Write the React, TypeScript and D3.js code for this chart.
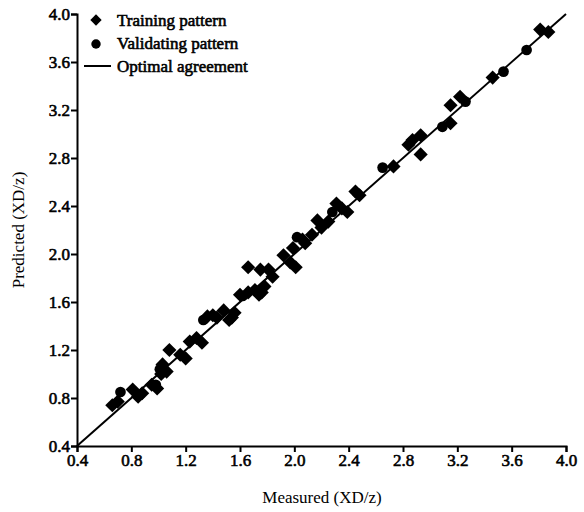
import React, { useEffect, useRef } from "react";
import * as d3 from "d3";

// training pattern (diamonds)
const trainX = [0.66, 0.7, 0.81, 0.85, 0.88, 0.95, 0.99, 1.03, 1.06, 1.02, 1.08, 1.16, 1.2, 1.23, 1.28, 1.32, 1.36, 1.4, 1.43, 1.48, 1.54, 1.56, 1.52, 1.6, 1.66, 1.71, 1.76, 1.78, 1.74, 1.66, 1.75, 1.81, 1.84, 1.92, 1.97, 2.01, 2.06, 1.99, 2.08, 2.17, 2.2, 2.25, 2.13, 2.31, 2.35, 2.39, 2.45, 2.48, 2.73, 2.84, 2.87, 2.93, 2.93, 3.15, 3.15, 3.22, 3.46, 3.81, 3.87];
const trainY = [0.74, 0.77, 0.87, 0.81, 0.84, 0.91, 0.88, 1.08, 1.02, 1.0, 1.2, 1.16, 1.13, 1.27, 1.3, 1.26, 1.48, 1.49, 1.47, 1.53, 1.47, 1.51, 1.45, 1.66, 1.68, 1.7, 1.68, 1.73, 1.66, 1.89, 1.87, 1.87, 1.81, 1.99, 1.93, 1.89, 2.12, 2.05, 2.09, 2.28, 2.22, 2.27, 2.16, 2.42, 2.38, 2.35, 2.52, 2.49, 2.73, 2.91, 2.95, 2.99, 2.83, 3.09, 3.24, 3.31, 3.47, 3.87, 3.85];

// validating pattern (circles)
const validX = [0.72, 0.98, 1.01, 1.33, 1.62, 2.02, 2.28, 2.65, 3.09, 3.26, 3.54, 3.71];
const validY = [0.85, 0.91, 1.04, 1.45, 1.65, 2.14, 2.35, 2.72, 3.06, 3.27, 3.52, 3.7];

const ticks = [0.4, 0.8, 1.2, 1.6, 2.0, 2.4, 2.8, 3.2, 3.6, 4.0];
const legendLabels = ["Training pattern", "Validating pattern", "Optimal agreement"];

const font = "'Times New Roman', 'Liberation Serif', serif";

export default function App() {
  const ref = useRef<SVGSVGElement>(null);

  useEffect(() => {
    const svg = d3.select(ref.current);
    svg.selectAll("*").remove();

    const x = d3.scaleLinear().domain([0.4, 4.0]).range([77, 566]);
    const y = d3.scaleLinear().domain([0.4, 4.0]).range([446, 14]);

    const xAxis = d3.axisBottom(x).tickValues(ticks).tickFormat(d3.format(".1f")).tickSize(6).tickPadding(2);
    const yAxis = d3.axisLeft(y).tickValues(ticks).tickFormat(d3.format(".1f")).tickSize(6).tickPadding(1);

    const gx = svg.append("g").attr("transform", "translate(0,446)").call(xAxis);
    const gy = svg.append("g").attr("transform", "translate(77,0)").call(yAxis);

    [gx, gy].forEach((g) => {
      g.select(".domain").attr("stroke", "#000").attr("stroke-width", 2);
      g.selectAll(".tick line").attr("stroke", "#000").attr("stroke-width", 2);
      g.selectAll("text")
        .attr("font-family", font)
        .attr("font-size", 17)
        .attr("fill", "#000")
        .attr("stroke", "#000")
        .attr("stroke-width", 0.6);
    });

    // optimal agreement line
    svg.append("path")
      .attr("d", d3.line<number>().x((d) => x(d)).y((d) => y(d))([0.4, 4.0]))
      .attr("stroke", "#000")
      .attr("stroke-width", 2)
      .attr("fill", "none");

    const diamond = d3.symbol().type(d3.symbolSquare).size(100)();
    const circle = d3.symbol().type(d3.symbolCircle).size(90)();

    svg.append("g")
      .selectAll("path")
      .data(trainX.map((v, i) => [v, trainY[i]]))
      .join("path")
      .attr("d", diamond)
      .attr("transform", (d) => `translate(${x(d[0])},${y(d[1])}) rotate(45)`)
      .attr("fill", "#000");

    svg.append("g")
      .selectAll("path")
      .data(validX.map((v, i) => [v, validY[i]]))
      .join("path")
      .attr("d", circle)
      .attr("transform", (d) => `translate(${x(d[0])},${y(d[1])})`)
      .attr("fill", "#000");

    // legend
    const lg = svg.append("g");
    lg.append("path").attr("d", d3.symbol().type(d3.symbolSquare).size(64)()).attr("transform", "translate(96,20) rotate(45)");
    lg.append("path").attr("d", d3.symbol().type(d3.symbolCircle).size(70)()).attr("transform", "translate(96,44)");
    lg.append("line").attr("x1", 84).attr("x2", 111).attr("y1", 66).attr("y2", 66).attr("stroke", "#000").attr("stroke-width", 2);
    lg.selectAll("text")
      .data(legendLabels)
      .join("text")
      .attr("x", 117)
      .attr("y", (_, i) => 20 + i * 23)
      .attr("dy", "0.35em")
      .attr("font-family", font)
      .attr("font-size", 17)
      .attr("stroke", "#000")
      .attr("stroke-width", 0.6)
      .text((d) => d);

    svg.append("text")
      .attr("x", 322)
      .attr("y", 503)
      .attr("text-anchor", "middle")
      .attr("font-family", font)
      .attr("font-size", 17)
      .text("Measured (XD/z)");

    svg.append("text")
      .attr("transform", "translate(24,230) rotate(-90)")
      .attr("text-anchor", "middle")
      .attr("font-family", font)
      .attr("font-size", 17)
      .text("Predicted (XD/z)");
  }, []);

  return (
    <svg
      ref={ref}
      width={584}
      height={512}
      style={{ position: "absolute", left: 0, top: 0, background: "#fff" }}
    />
  );
}
